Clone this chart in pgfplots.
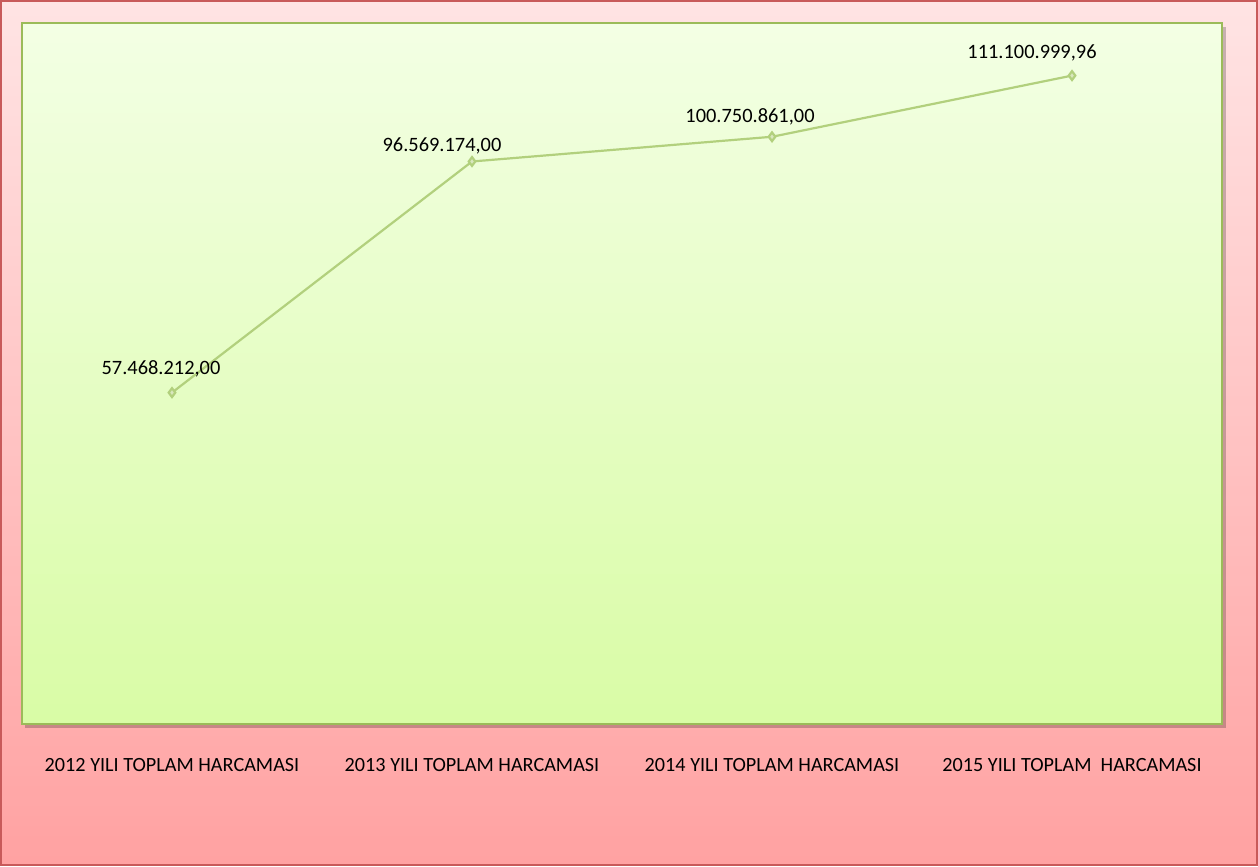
\documentclass[border=0pt]{standalone}
\usepackage{pgfplots}
\pgfplotsset{compat=1.18}
\usepackage{fontspec}
\setmainfont{Carlito}
\definecolor{bgtop}{RGB}{255,228,228}
\definecolor{bgbot}{RGB}{255,162,162}
\definecolor{pltop}{RGB}{243,255,228}
\definecolor{plbot}{RGB}{217,252,166}
\definecolor{plborder}{RGB}{155,187,89}
\definecolor{outborder}{RGB}{200,90,90}
\definecolor{linec}{RGB}{178,208,125}
\pgfplotstableread{
x y dx dy label
0 57468212 -5.5 12 57.468.212,00
1 96569174 -15 8 96.569.174,00
2 100750861 -11 10 100.750.861,00
3 111100999.96 -20 11.5 111.100.999,96
}\datatable
\begin{document}
\begin{tikzpicture}[x=1bp,y=1bp]
\foreach \i in {0,...,86} {
  \pgfmathsetmacro{\p}{100-\i/86*100}
  \pgfmathsetmacro{\yt}{min(433,\i*5+5.2)}
  \fill[bgbot!\p!bgtop] (0,\i*5) rectangle (629,\yt);
}
\draw[outborder, line width=0.8bp] (0.4,0.4) rectangle (628.6,432.6);
\fill[black, opacity=0.22] (12.5,69.2) rectangle (612.8,419.7);
\foreach \i in {0,...,69} {
  \pgfmathsetmacro{\p}{100-\i/69*100}
  \pgfmathsetmacro{\yb}{71+\i*5.0072}
  \pgfmathsetmacro{\yt}{min(421.5,71+\i*5.0072+5.2)}
  \fill[plbot!\p!pltop] (11,\yb) rectangle (611,\yt);
}
\begin{axis}[at={(11bp,71bp)}, anchor=south west, scale only axis,
  width=600bp, height=350.5bp,
  xmin=-0.5, xmax=3.5, ymin=1.4e6, ymax=120e6,
  axis line style={plborder, line width=0.6bp},
  major tick length=0pt,
  ytick=\empty,
  xtick={0,1,2,3},
  xticklabels={2012 YILI TOPLAM HARCAMASI, 2013 YILI TOPLAM HARCAMASI, 2014 YILI TOPLAM HARCAMASI, 2015 YILI TOPLAM\ \ HARCAMASI},
  xticklabel style={anchor=center, yshift=-20.5bp, font=\fontsize{10.1bp}{12bp}\selectfont, text=black},
  clip=false,
  ]
\addplot[color=linec, line width=1.1bp, mark=diamond*, mark size=2.2bp,
  mark options={fill=linec!50!white, draw=linec},
  point meta=explicit symbolic,
  visualization depends on={\thisrow{dx} \as \dx},
  visualization depends on={\thisrow{dy} \as \dy},
  nodes near coords,
  every node near coord/.append style={anchor=center, xshift=\dx bp, yshift=\dy bp, text=black, font=\fontsize{10.2bp}{12bp}\selectfont}]
  table[x=x, y=y, meta=label] {\datatable};
\end{axis}
\end{tikzpicture}
\end{document}
